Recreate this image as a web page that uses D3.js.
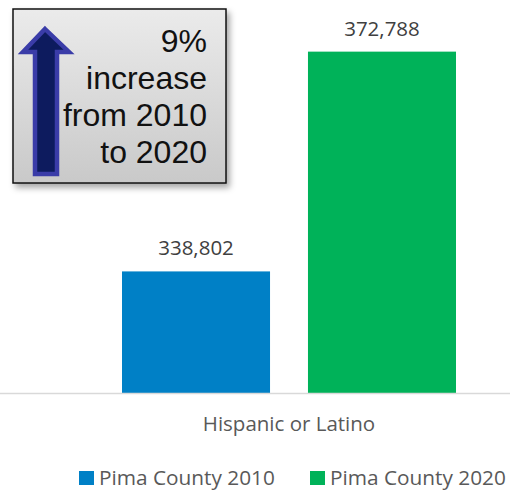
<!DOCTYPE html>
<html>
<head>
<meta charset="utf-8">
<script src="https://cdn.jsdelivr.net/npm/d3@7"></script>
<style>
  html, body { margin: 0; padding: 0; background: #fff; }
  svg { display: block; }
</style>
</head>
<body>
<svg id="chart" width="510" height="491"></svg>
<script>
const categories = ["Hispanic or Latino"];
const seriesNames = ["Pima County 2010", "Pima County 2020"];
const values2010 = [338802];
const values2020 = [372788];
const seriesColors = ["#0080c6", "#00b259"];
const calloutLines = ["9%", "increase", "from 2010", "to 2020"];

const W = 510, H = 491;
const svg = d3.select("#chart");
const font = "'Open Sans', 'Noto Sans', sans-serif";
const textColor = "#595959";

const baseY = 393;
const y = d3.scaleLinear().domain([320000, 380000]).range([baseY, 5]);
const x0 = d3.scaleBand().domain(categories).range([122, 456]).padding(0);
const x1 = d3.scaleBand().domain(seriesNames).range([0, x0.bandwidth()]).paddingInner(0.204).paddingOuter(0);

const data = [];
categories.forEach((c, i) => {
  data.push({ cat: c, series: seriesNames[0], value: values2010[i], color: seriesColors[0] });
  data.push({ cat: c, series: seriesNames[1], value: values2020[i], color: seriesColors[1] });
});

// bars
svg.append("g").selectAll("rect").data(data).join("rect")
  .attr("x", d => x0(d.cat) + x1(d.series))
  .attr("y", d => y(d.value))
  .attr("width", x1.bandwidth())
  .attr("height", d => baseY - y(d.value))
  .attr("fill", d => d.color);

// axis line
svg.append("line").attr("x1", 0).attr("x2", W).attr("y1", baseY + 0.5).attr("y2", baseY + 0.5)
  .attr("stroke", "#d9d9d9").attr("stroke-width", 1.5);

// value labels
const fmt = d3.format(",");
svg.append("g").selectAll("text").data(data).join("text")
  .attr("x", d => x0(d.cat) + x1(d.series) + x1.bandwidth() / 2)
  .attr("y", d => y(d.value) - 16)
  .attr("text-anchor", "middle")
  .attr("font-family", font).attr("font-size", 20.5)
  .attr("fill", "#404040")
  .text(d => fmt(d.value));

// category label
svg.append("g").selectAll("text").data(categories).join("text")
  .attr("x", d => x0(d) + x0.bandwidth() / 2)
  .attr("y", 431)
  .attr("text-anchor", "middle")
  .attr("font-family", font).attr("font-size", 20.5)
  .attr("fill", textColor)
  .text(d => d);

// legend
const legendX = [79, 310];
const lg = svg.append("g").selectAll("g").data(seriesNames).join("g")
  .attr("transform", (d, i) => `translate(${legendX[i]},0)`);
lg.append("rect").attr("x", 0).attr("y", 471).attr("width", 15).attr("height", 14)
  .attr("fill", (d, i) => seriesColors[i]);
lg.append("text").attr("x", 20).attr("y", 485)
  .attr("font-family", font).attr("font-size", 20.8)
  .attr("fill", textColor).text(d => d);

// callout box
const defs = svg.append("defs");
const grad = defs.append("linearGradient").attr("id", "boxGrad").attr("x1", 0).attr("y1", 0).attr("x2", 0).attr("y2", 1);
grad.append("stop").attr("offset", "0%").attr("stop-color", "#ebebeb");
grad.append("stop").attr("offset", "100%").attr("stop-color", "#c9c9c9");
const filt = defs.append("filter").attr("id", "shadow").attr("x", "-10%").attr("y", "-10%").attr("width", "130%").attr("height", "130%");
filt.append("feDropShadow").attr("dx", 3).attr("dy", 4).attr("stdDeviation", 3).attr("flood-color", "#000").attr("flood-opacity", 0.35);

const box = svg.append("g");
box.append("rect").attr("x", 13).attr("y", 9).attr("width", 213).attr("height", 174)
  .attr("fill", "url(#boxGrad)").attr("stroke", "#111").attr("stroke-width", 1.5)
  .attr("filter", "url(#shadow)");

// arrow
const arrowPts = [[45, 29], [69, 52], [57, 52], [57, 174], [35, 174], [35, 52], [23, 52]];
box.append("path")
  .attr("d", d3.line()(arrowPts) + "Z")
  .attr("fill", "#0d1b5e").attr("stroke", "#3a3ca8").attr("stroke-width", 4.5).attr("stroke-linejoin", "miter");

box.append("g").selectAll("text").data(calloutLines).join("text")
  .attr("x", 207).attr("y", (d, i) => 52 + i * 37)
  .attr("text-anchor", "end")
  .attr("font-family", "'Liberation Sans', Arial, sans-serif").attr("font-size", 32)
  .attr("fill", "#111")
  .text(d => d);
</script>
</body>
</html>
